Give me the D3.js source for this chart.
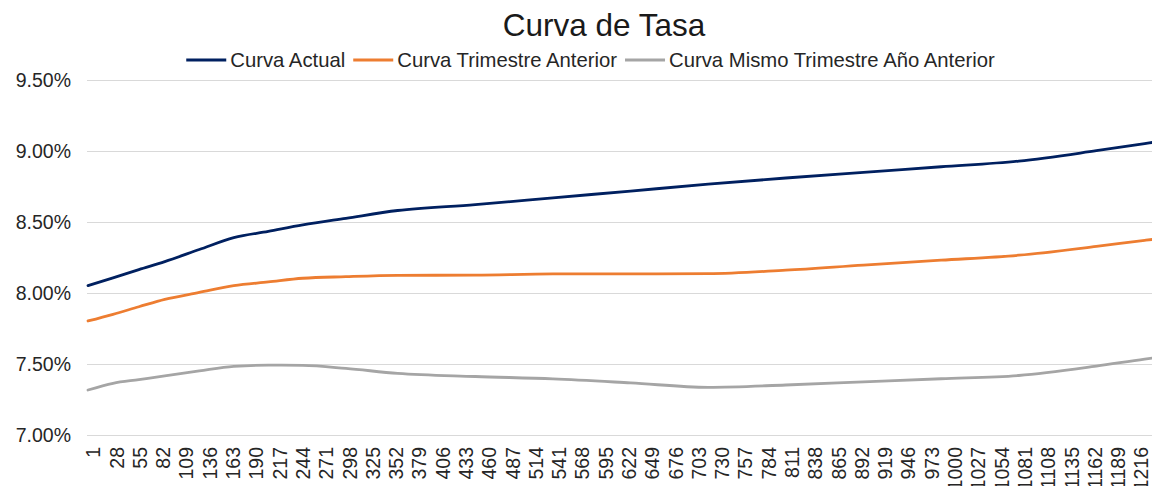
<!DOCTYPE html>
<html lang="es">
<head>
  <meta charset="UTF-8">
  <title>Curva de Tasa</title>
  <script src="https://d3js.org/d3.v7.min.js"></script>
  <style>
    body { margin: 0; background: #fff; }
    svg { display: block; font-family: "Liberation Sans", Arial, sans-serif; }
    .grid line { stroke: #d9d9d9; stroke-width: 1px; }
    .axis text { fill: #262626; font-size: 19.5px; }
    .series { fill: none; stroke-width: 2.8px; stroke-linejoin: round; stroke-linecap: round; }
  </style>
</head>
<body>
  <svg></svg>
  <script>
    // plazo en dias
    const days = [1, 30, 60, 90, 130, 170, 210, 250, 300, 360, 450, 540, 630, 720, 810, 900, 990, 1080, 1170, 1226, 1236]
    // tasas en %
    const curvaActual = [8.052, 8.107, 8.165, 8.221, 8.306, 8.39, 8.434, 8.479, 8.526, 8.581, 8.622, 8.670, 8.718, 8.766, 8.81, 8.85, 8.889, 8.929, 9.002, 9.052, 9.061]
    const curvaTrimAnterior = [7.803, 7.85, 7.903, 7.955, 8.004, 8.052, 8.078, 8.104, 8.115, 8.124, 8.126, 8.134, 8.135, 8.136, 8.161, 8.197, 8.231, 8.266, 8.328, 8.371, 8.378]
    const curvaAnioAnterior = [7.317, 7.364, 7.39, 7.416, 7.451, 7.483, 7.492, 7.49, 7.469, 7.434, 7.412, 7.395, 7.367, 7.336, 7.352, 7.374, 7.396, 7.419, 7.485, 7.534, 7.542]

    const seriesNames = ['Curva Actual', 'Curva Trimestre Anterior', 'Curva Mismo Trimestre Año Anterior']
    const seriesColors = ['#002060', '#ed7d31', '#a5a5a5']
    const yTicks = [7.0, 7.5, 8.0, 8.5, 9.0, 9.5]
    const xTicks = d3.range(1, 1244, 27)

    const WIDTH = 1152
    const HEIGHT = 486
    const left = 88
    const right = 1152

    const svg = d3.select('svg')
      .attr('width', WIDTH)
      .attr('height', HEIGHT)

    const x = d3.scaleLinear().domain([1, 1243]).range([left, left + 1242 * 0.8626])
    const y = d3.scaleLinear().domain([7.0, 9.5]).range([435, 80])

    // grid
    svg.append('g')
      .attr('class', 'grid')
      .selectAll('line')
      .data(yTicks)
      .enter().append('line')
      .attr('x1', left - 1)
      .attr('x2', right)
      .attr('y1', (d) => Math.round(y(d)) + 0.5)
      .attr('y2', (d) => Math.round(y(d)) + 0.5)

    // eje y
    const yAxis = svg.append('g')
      .attr('class', 'axis')
      .attr('transform', 'translate(71,0)')
      .call(d3.axisLeft(y).tickValues(yTicks).tickSize(0).tickPadding(0)
        .tickFormat((d) => d.toFixed(2) + '%'))
    yAxis.select('.domain').remove()
    yAxis.selectAll('text').attr('fill', '#262626').attr('dy', '0.35em')

    // eje x (las etiquetas de 4 cifras quedan cortadas abajo, como en el original)
    const xAxis = svg.append('g')
      .attr('class', 'axis')
      .attr('transform', 'translate(0,' + y(7.0) + ')')
      .call(d3.axisBottom(x).tickValues(xTicks).tickSize(0).tickFormat((d) => d))
    xAxis.select('.domain').remove()
    xAxis.selectAll('text')
      .attr('fill', '#262626')
      .attr('transform', 'rotate(-90)')
      .attr('text-anchor', 'end')
      .attr('x', -12)
      .attr('y', 5)
      .attr('dy', '0.35em')

    // lineas
    const allSeries = [curvaActual, curvaTrimAnterior, curvaAnioAnterior]
    const line = d3.line()
      .x((d, i) => x(days[i]))
      .y((d) => y(d))
      .curve(d3.curveMonotoneX)

    svg.append('g')
      .selectAll('path')
      .data(allSeries)
      .enter().append('path')
      .attr('class', 'series')
      .attr('stroke', (d, i) => seriesColors[i])
      .attr('d', line)

    // titulo
    svg.append('text')
      .attr('x', 604)
      .attr('y', 36)
      .attr('text-anchor', 'middle')
      .attr('font-size', '31.5px')
      .attr('fill', '#1a1a1a')
      .text('Curva de Tasa')

    // leyenda
    const legend = svg.append('g').attr('transform', 'translate(0,60)')
    let lx = 0
    const items = []
    seriesNames.forEach((name, i) => {
      const g = legend.append('g')
      g.append('line')
        .attr('x1', 0).attr('x2', 40)
        .attr('stroke', seriesColors[i])
        .attr('stroke-width', 2.8)
      const t = g.append('text')
        .attr('x', 44)
        .attr('dy', '0.35em')
        .attr('font-size', '20.3px')
        .attr('fill', '#262626')
        .text(name)
      const w = 44 + t.node().getComputedTextLength()
      items.push({ g, w })
    })
    const gap = 8
    const total = d3.sum(items, (d) => d.w) + gap * (items.length - 1)
    lx = 590.5 - total / 2
    items.forEach((it) => {
      it.g.attr('transform', 'translate(' + lx + ',0)')
      lx += it.w + gap
    })
  </script>
</body>
</html>
